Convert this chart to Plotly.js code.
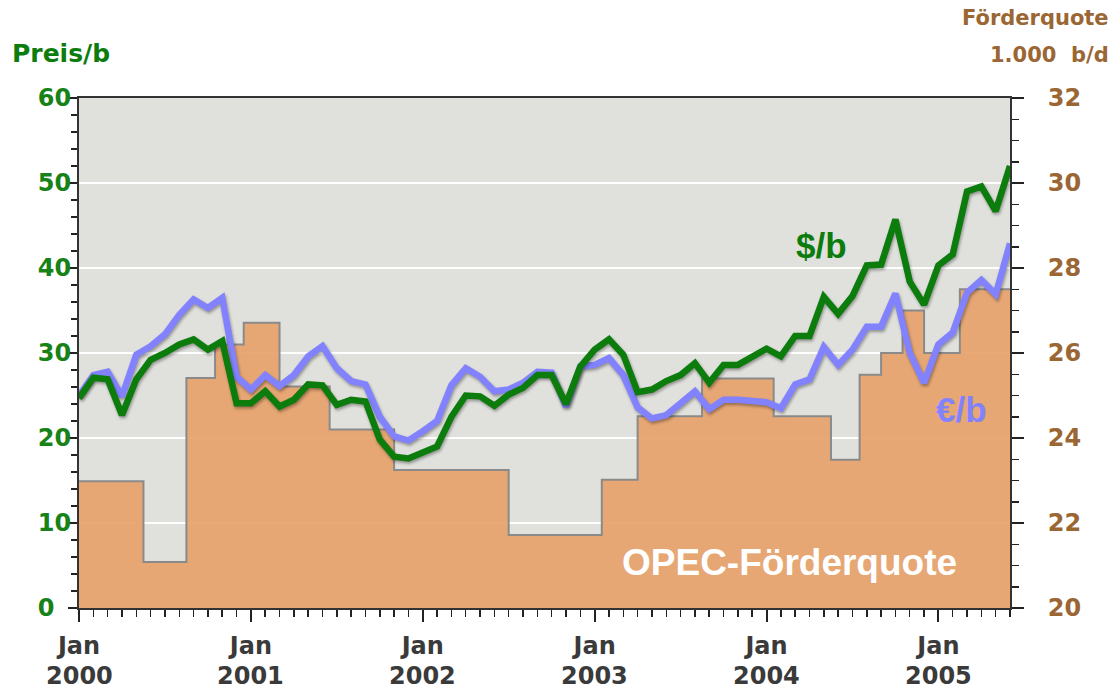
<!DOCTYPE html>
<html>
<head>
<meta charset="utf-8">
<script src="https://cdn.plot.ly/plotly-3.0.1.min.js"></script>
<style>
  html, body { margin: 0; padding: 0; background: #ffffff; }
  #chart { width: 1114px; height: 691px; }
  .overplot .xy2 path.js-line { filter: drop-shadow(1.5px 2px 1.5px rgba(0,0,0,0.35)); }
</style>
</head>
<body>
<div id="chart"></div>
<script>
// Monthly prices, Jan 2000 .. Jun 2005
const usdPerBarrel = [
  24.7, 27.1, 26.9, 22.7, 26.9, 29.2, 30.0, 31.0, 31.6, 30.4, 31.4, 24.1,
  24.1, 25.5, 23.7, 24.5, 26.3, 26.2, 23.9, 24.5, 24.3, 19.8, 17.8, 17.6,
  18.3, 19.0, 22.5, 25.0, 24.9, 23.8, 25.1, 25.9, 27.4, 27.4, 24.0, 28.4,
  30.4, 31.6, 29.8, 25.4, 25.7, 26.7, 27.4, 28.8, 26.5, 28.6, 28.6, 29.6,
  30.5, 29.6, 32.0, 32.0, 36.6, 34.6, 36.7, 40.3, 40.4, 45.7, 38.4, 35.7,
  40.3, 41.6, 49.0, 49.6, 46.7, 52.0
];
const eurPerBarrel = [
  25.0, 27.4, 27.8, 24.9, 29.8, 30.8, 32.2, 34.5, 36.3, 35.3, 36.5, 27.2,
  25.7, 27.4, 26.1, 27.4, 29.6, 30.8, 28.2, 26.7, 26.3, 22.5, 20.2, 19.7,
  20.8, 22.0, 26.2, 28.2, 27.2, 25.5, 25.7, 26.5, 27.8, 27.7, 23.7, 28.4,
  28.6, 29.4, 27.4, 23.6, 22.3, 22.7, 24.1, 25.5, 23.4, 24.5, 24.5, 24.4,
  24.2, 23.5, 26.3, 26.9, 30.7, 28.6, 30.4, 33.1, 33.1, 37.0, 30.0, 26.5,
  31.0, 32.4, 37.1, 38.6, 36.9, 42.9
];
// OPEC quota (1,000 b/d): month position where each level starts, and the level
const quotaStart = [0, 4.5, 7.5, 9.5, 11.5, 14, 17.5, 22, 30, 36.5, 39, 43.5, 48.5, 52.5, 54.5, 56, 57.5, 59, 61.5, 65];
const quotaLevel = [22.98, 21.08, 25.41, 26.2, 26.71, 25.21, 24.2, 23.25, 21.72, 23.02, 24.51, 25.4, 24.51, 23.49, 25.49, 26.0, 27.0, 26.0, 27.5, 27.5];

// Axis ticks
const xTickVals = [0, 12, 24, 36, 48, 60];
const xTickMonth = ['Jan', 'Jan', 'Jan', 'Jan', 'Jan', 'Jan'];
const xTickYear = ['2000', '2001', '2002', '2003', '2004', '2005'];
const priceTickVals = [0, 10, 20, 30, 40, 50, 60];
const priceTickText = ['0\u2007', '10', '20', '30', '40', '50', '60'];
const quotaTickVals = [20, 22, 24, 26, 28, 30, 32];

const monthIndex = usdPerBarrel.map((_, i) => i);

const GREEN = '#0c7c0c';
const BLUE = '#8282ff';
const BROWN = '#9a6634';
const DARK = '#222222';
const TICKFONT = 'DejaVu Sans, Verdana, sans-serif';
const LABELFONT = 'Liberation Sans, Arial, sans-serif';

const traces = [
  {
    x: quotaStart, y: quotaLevel, type: 'scatter', mode: 'lines',
    line: { shape: 'hv', color: '#8a8a8a', width: 2 },
    fill: 'tozeroy', fillcolor: 'rgba(230,162,106,0.92)',
    yaxis: 'y', hoverinfo: 'skip', showlegend: false
  },
  {
    x: monthIndex, y: eurPerBarrel, type: 'scatter', mode: 'lines',
    line: { color: BLUE, width: 6.5 }, yaxis: 'y2', showlegend: false
  },
  {
    x: monthIndex, y: usdPerBarrel, type: 'scatter', mode: 'lines',
    line: { color: GREEN, width: 6.5 }, yaxis: 'y2', showlegend: false
  }
];

const annotations = [];
xTickVals.forEach((v, i) => {
  annotations.push({
    x: v, xref: 'x', y: 0, yref: 'paper', yshift: -68, borderpad: 0,
    yanchor: 'middle', xanchor: 'center', showarrow: false,
    text: xTickYear[i],
    font: { family: TICKFONT, size: 24, color: '#3a3a3a', weight: 'bold' }
  });
});
annotations.push(
  { x: -0.074, xref: 'paper', y: 1.088, yref: 'paper', xanchor: 'left', yanchor: 'middle',
    showarrow: false, text: 'Preis/b',
    font: { family: TICKFONT, size: 25, color: GREEN, weight: 'bold' } },
  { x: 1.109, xref: 'paper', y: 1.157, yref: 'paper', xanchor: 'right', yanchor: 'middle',
    showarrow: false, text: 'Förderquote',
    font: { family: TICKFONT, size: 21, color: BROWN, weight: 'bold' } },
  { x: 1.109, xref: 'paper', y: 1.084, yref: 'paper', xanchor: 'right', yanchor: 'middle',
    showarrow: false, text: '1.000&nbsp;&nbsp;b/d',
    font: { family: TICKFONT, size: 21, color: BROWN, weight: 'bold' } },
  { x: 51.85, xref: 'x', y: 42.7, yref: 'y2', showarrow: false, text: '$/b',
    font: { family: LABELFONT, size: 35, color: GREEN, weight: 'bold' } },
  { x: 61.6, xref: 'x', y: 23.3, yref: 'y2', showarrow: false, text: '€/b',
    font: { family: LABELFONT, size: 35, color: BLUE, weight: 'bold' } },
  { x: 49.6, xref: 'x', y: 5.3, yref: 'y2', showarrow: false, text: 'OPEC-Förderquote',
    font: { family: LABELFONT, size: 37, color: '#ffffff', weight: 'bold' } }
);

const layout = {
  width: 1114, height: 691,
  margin: { l: 79, r: 104, t: 98, b: 83 },
  paper_bgcolor: '#ffffff',
  plot_bgcolor: '#e0e0dd',
  showlegend: false,
  hovermode: false,
  xaxis: {
    range: [0, 65], tickmode: 'array', tickvals: xTickVals, ticktext: xTickMonth,
    ticks: 'outside', ticklen: 12, tickwidth: 2, tickcolor: DARK,
    minor: { tick0: 0, dtick: 1, ticks: 'outside', ticklen: 7, tickwidth: 1.5, tickcolor: DARK, showgrid: false },
    showline: true, linecolor: '#333333', linewidth: 2, mirror: true,
    showgrid: false, zeroline: false, ticklabelstandoff: 3,
    tickfont: { family: TICKFONT, size: 24, color: '#3a3a3a', weight: 'bold' }
  },
  yaxis: {
    side: 'right', range: [20, 32], tickmode: 'array', tickvals: quotaTickVals,
    ticks: 'outside', ticklen: 12, tickwidth: 2, tickcolor: DARK,
    minor: { dtick: 0.5, tick0: 20, ticks: 'outside', ticklen: 7, tickwidth: 1.5, tickcolor: DARK, showgrid: false },
    showgrid: true, gridcolor: 'rgba(255,255,255,0.95)', gridwidth: 2,
    showline: true, linecolor: '#333333', linewidth: 2, mirror: true,
    zeroline: false, ticklabelstandoff: 19,
    tickfont: { family: TICKFONT, size: 24, color: BROWN, weight: 'bold' }
  },
  yaxis2: {
    overlaying: 'y', side: 'left', range: [0, 60], tickmode: 'array',
    tickvals: priceTickVals, ticktext: priceTickText,
    ticks: 'outside', ticklen: 9, tickwidth: 2, tickcolor: DARK,
    minor: { dtick: 2, tick0: 0, ticks: 'outside', ticklen: 6, tickwidth: 1.5, tickcolor: DARK, showgrid: false },
    showgrid: false, zeroline: false, ticklabelstandoff: -8,
    showline: true, linecolor: '#333333', linewidth: 2,
    tickfont: { family: TICKFONT, size: 24, color: '#178217', weight: 'bold' }
  },
  annotations: annotations
};

Plotly.newPlot('chart', traces, layout, { displayModeBar: false, staticPlot: true });
</script>
</body>
</html>
